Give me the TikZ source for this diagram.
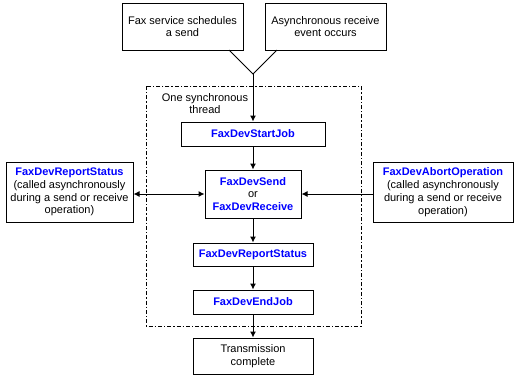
\documentclass[tikz,border=0pt]{standalone}
\usepackage{fontspec}
\setmainfont{Liberation Sans}
\usetikzlibrary{arrows.meta}
\definecolor{fnblue}{RGB}{0,0,255}
\newcommand{\fn}[1]{{\bfseries\color{fnblue}#1}}
\begin{document}
\begin{tikzpicture}[x=0.75pt,y=-0.75pt,
  every node/.style={font=\fontsize{8.25pt}{9.6pt}\selectfont},
  box/.style={draw,line width=0.75pt,align=center,inner sep=0pt},
  conn/.style={line width=0.75pt},
  arr/.style={conn,-{Latex[length=4.5pt,width=4.5pt]}},
  darr/.style={conn,{Latex[length=4.5pt,width=4.5pt]}-{Latex[length=4.5pt,width=4.5pt]}}]
\useasboundingbox (0,0) rectangle (520,376);
% dashed thread frame
\draw[line width=0.75pt,dash pattern=on 3pt off 1.5pt on 1pt off 1.5pt] (146,86) rectangle (361,326);
\node[align=center] (thr) at (205,103.5) {One synchronous\\thread};
% top boxes
\node[box,minimum width=90.75pt,minimum height=35.25pt] (s1) at (182.5,26.5) {Fax service schedules\\a send};
\node[box,minimum width=90.75pt,minimum height=35.25pt] (s2) at (325.5,26.5) {Asynchronous receive\\event occurs};
\coordinate (a1) at (229,50);
\coordinate (a2) at (277,50);
\coordinate (j) at (253,74);
% thread boxes
\node[box,minimum width=108pt,minimum height=18pt] (start) at (253,134) {\fn{FaxDevStartJob}};
\node[box,minimum width=72pt,minimum height=36pt] (send) at (253,194) {\fn{FaxDevSend}\\or\\\fn{FaxDevReceive}};
\node[box,minimum width=90pt,minimum height=17.25pt] (rep) at (253,254.5) {\fn{FaxDevReportStatus}};
\node[box,minimum width=90pt,minimum height=18pt] (endj) at (253,302) {\fn{FaxDevEndJob}};
\node[box,minimum width=90pt,minimum height=27pt] (trans) at (253,356) {Transmission\\complete};
% side boxes
\node[box,minimum width=95.25pt,minimum height=45pt] (left) at (69.5,192) {\fn{FaxDevReportStatus}\\(called asynchronously\\during a send or receive\\operation)};
\node[box,minimum width=105pt,minimum height=45pt] (right) at (443,192) {\fn{FaxDevAbortOperation}\\(called asynchronously\\during a send or receive\\operation)};
% connectors
\draw[conn] (a1) -- (j) -- (a2);
\draw[arr] (j) -- (start.north);
\draw[arr] (start) -- (send);
\draw[darr] (send.west) -- (send.west -| left.east);
\draw[arr] (send.east -| right.west) -- (send.east);
\draw[arr] (send) -- (rep);
\draw[arr] (rep) -- (endj);
\draw[arr] (endj) -- (trans);
\end{tikzpicture}
\end{document}
